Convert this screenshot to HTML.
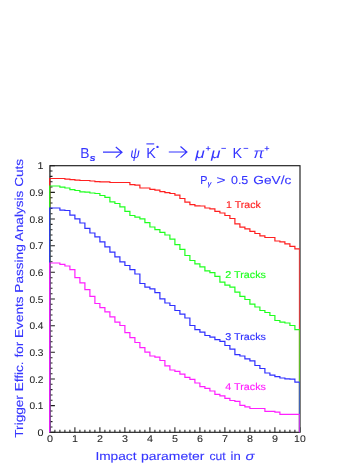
<!DOCTYPE html><html><head><meta charset="utf-8"><style>html,body{margin:0;padding:0;background:#fff}body{width:360px;height:466px;overflow:hidden;position:relative;font-family:"Liberation Sans",sans-serif}</style></head><body><svg width="360" height="466" viewBox="0 0 360 466" text-rendering="geometricPrecision" style="position:absolute;left:0;top:0;will-change:transform">
<rect width="360" height="466" fill="#fff"/>
<rect x="49.9" y="165.7" width="250.09999999999997" height="266.6" fill="none" stroke="#1c1c1c" stroke-width="1.15"/>
<path d="M49.90 432.3v-5.0M54.90 432.3v-2.6M59.90 432.3v-2.6M64.90 432.3v-2.6M69.90 432.3v-2.6M74.90 432.3v-5.0M79.90 432.3v-2.6M84.90 432.3v-2.6M89.90 432.3v-2.6M94.90 432.3v-2.6M99.90 432.3v-5.0M104.90 432.3v-2.6M109.90 432.3v-2.6M114.90 432.3v-2.6M119.90 432.3v-2.6M124.90 432.3v-5.0M129.90 432.3v-2.6M134.90 432.3v-2.6M139.90 432.3v-2.6M144.90 432.3v-2.6M149.90 432.3v-5.0M154.90 432.3v-2.6M159.90 432.3v-2.6M164.90 432.3v-2.6M169.90 432.3v-2.6M174.90 432.3v-5.0M179.90 432.3v-2.6M184.90 432.3v-2.6M189.90 432.3v-2.6M194.90 432.3v-2.6M199.90 432.3v-5.0M204.90 432.3v-2.6M209.90 432.3v-2.6M214.90 432.3v-2.6M219.90 432.3v-2.6M224.90 432.3v-5.0M229.90 432.3v-2.6M234.90 432.3v-2.6M239.90 432.3v-2.6M244.90 432.3v-2.6M249.90 432.3v-5.0M254.90 432.3v-2.6M259.90 432.3v-2.6M264.90 432.3v-2.6M269.90 432.3v-2.6M274.90 432.3v-5.0M279.90 432.3v-2.6M284.90 432.3v-2.6M289.90 432.3v-2.6M294.90 432.3v-2.6M299.90 432.3v-5.0M49.9 432.30h5.0M49.9 426.97h2.6M49.9 421.64h2.6M49.9 416.30h2.6M49.9 410.97h2.6M49.9 405.64h5.0M49.9 400.31h2.6M49.9 394.98h2.6M49.9 389.64h2.6M49.9 384.31h2.6M49.9 378.98h5.0M49.9 373.65h2.6M49.9 368.32h2.6M49.9 362.98h2.6M49.9 357.65h2.6M49.9 352.32h5.0M49.9 346.99h2.6M49.9 341.66h2.6M49.9 336.32h2.6M49.9 330.99h2.6M49.9 325.66h5.0M49.9 320.33h2.6M49.9 315.00h2.6M49.9 309.66h2.6M49.9 304.33h2.6M49.9 299.00h5.0M49.9 293.67h2.6M49.9 288.34h2.6M49.9 283.00h2.6M49.9 277.67h2.6M49.9 272.34h5.0M49.9 267.01h2.6M49.9 261.68h2.6M49.9 256.34h2.6M49.9 251.01h2.6M49.9 245.68h5.0M49.9 240.35h2.6M49.9 235.02h2.6M49.9 229.68h2.6M49.9 224.35h2.6M49.9 219.02h5.0M49.9 213.69h2.6M49.9 208.36h2.6M49.9 203.02h2.6M49.9 197.69h2.6M49.9 192.36h5.0M49.9 187.03h2.6M49.9 181.70h2.6M49.9 176.36h2.6M49.9 171.03h2.6M49.9 165.70h5.0" stroke="#1c1c1c" stroke-width="1.05" fill="none"/>
<path d="M49.70 432.30V178.50H54.90V178.50H59.90V178.50H64.90V179.20H69.90V179.70H74.90V180.20H79.90V180.50H84.90V180.50H89.90V181.00H94.90V181.70H99.90V181.80H104.90V181.80H109.90V182.50H114.90V182.50H119.90V182.50H124.90V182.50H129.90V184.70H134.90V185.20H139.90V188.00H144.90V188.00H149.90V189.30H154.90V190.20H159.90V191.70H164.90V192.70H169.90V193.50H174.90V195.20H179.90V198.50H184.90V202.20H189.90V204.70H194.90V205.80H199.90V206.00H204.90V208.00H209.90V208.80H214.90V211.30H219.90V213.00H224.90V215.50H229.90V218.50H234.90V223.80H239.90V227.20H244.90V228.80H249.90V231.30H254.90V233.50H259.90V235.80H264.90V237.50H269.90V237.50H274.90V241.00H279.90V241.80H284.90V243.80H289.90V246.30H294.90V248.80H299.50" fill="none" stroke="#ff2020" stroke-width="1.2" stroke-linejoin="miter"/>
<path d="M299.35 248.50V432.30" fill="none" stroke="#ff2020" stroke-width="0.9" opacity="0.85"/>
<path d="M49.70 432.30V186.00H54.90V186.00H59.90V187.20H64.90V188.00H69.90V189.70H74.90V190.50H79.90V191.80H84.90V192.20H89.90V193.00H94.90V193.50H99.90V195.50H104.90V197.30H109.90V201.80H114.90V203.50H119.90V206.80H124.90V211.30H129.90V215.50H134.90V217.20H139.90V218.80H144.90V222.70H149.90V227.00H154.90V229.70H159.90V232.30H164.90V235.00H169.90V239.20H174.90V244.70H179.90V249.30H184.90V255.50H189.90V260.50H194.90V263.80H199.90V266.80H204.90V270.80H209.90V272.70H214.90V276.30H219.90V282.20H224.90V285.20H229.90V287.20H234.90V292.20H239.90V296.30H244.90V299.50H249.90V304.20H254.90V307.00H259.90V310.50H264.90V312.50H269.90V315.50H274.90V320.50H279.90V322.20H284.90V323.00H289.90V325.50H294.90V329.70H299.50" fill="none" stroke="#20ff20" stroke-width="1.2" stroke-linejoin="miter"/>
<path d="M299.35 329.40V432.30" fill="none" stroke="#20ff20" stroke-width="0.9" opacity="0.85"/>
<path d="M49.70 432.30V208.00H54.90V208.00H59.90V210.20H64.90V210.50H69.90V215.20H74.90V218.80H79.90V223.00H84.90V228.30H89.90V233.00H94.90V236.80H99.90V241.80H104.90V246.80H109.90V252.20H114.90V256.80H119.90V261.80H124.90V265.50H129.90V269.70H134.90V274.00H139.90V283.50H144.90V287.20H149.90V288.80H154.90V292.70H159.90V298.80H164.90V303.00H169.90V305.50H174.90V310.50H179.90V314.20H184.90V318.00H189.90V325.50H194.90V329.70H199.90V332.20H204.90V335.50H209.90V337.20H214.90V339.70H219.90V341.30H224.90V345.50H229.90V349.20H234.90V354.70H239.90V356.00H244.90V358.80H249.90V360.80H254.90V365.50H259.90V368.50H264.90V373.00H269.90V375.20H274.90V376.70H279.90V378.00H284.90V378.80H289.90V379.20H294.90V382.20H299.50" fill="none" stroke="#3030ff" stroke-width="1.2" stroke-linejoin="miter"/>
<path d="M299.35 381.90V432.30" fill="none" stroke="#3030ff" stroke-width="0.9" opacity="0.85"/>
<path d="M49.70 432.30V263.00H54.90V263.00H59.90V264.30H64.90V266.00H69.90V269.70H74.90V277.70H79.90V282.80H84.90V289.70H89.90V296.30H94.90V303.50H99.90V307.70H104.90V311.80H109.90V316.80H114.90V322.20H119.90V325.50H124.90V332.70H129.90V337.70H134.90V342.50H139.90V347.70H144.90V352.20H149.90V356.00H154.90V357.20H159.90V360.50H164.90V365.80H169.90V370.00H174.90V371.30H179.90V374.20H184.90V377.30H189.90V379.30H194.90V383.00H199.90V386.70H204.90V388.30H209.90V391.00H214.90V394.30H219.90V395.80H224.90V398.30H229.90V400.50H234.90V401.30H239.90V405.30H244.90V406.80H249.90V408.50H254.90V408.50H259.90V408.50H264.90V411.30H269.90V411.30H274.90V412.20H279.90V414.30H284.90V414.30H289.90V414.30H294.90V414.30H299.50" fill="none" stroke="#ff20ff" stroke-width="1.2" stroke-linejoin="miter"/>
<path d="M299.35 414.00V432.30" fill="none" stroke="#ff20ff" stroke-width="0.9" opacity="0.85"/>
<path d="M50.25 165.7V432.3" stroke="#000" stroke-width="0.5" opacity="0.3" fill="none"/>
<text x="49.9" y="442.3" font-size="9.8" text-anchor="middle" textLength="6.0" lengthAdjust="spacingAndGlyphs" fill="#222" stroke="#222" stroke-width="0.05" font-family="Liberation Sans, sans-serif">0</text>
<text x="74.9" y="442.3" font-size="9.8" text-anchor="middle" textLength="6.0" lengthAdjust="spacingAndGlyphs" fill="#222" stroke="#222" stroke-width="0.05" font-family="Liberation Sans, sans-serif">1</text>
<text x="99.9" y="442.3" font-size="9.8" text-anchor="middle" textLength="6.0" lengthAdjust="spacingAndGlyphs" fill="#222" stroke="#222" stroke-width="0.05" font-family="Liberation Sans, sans-serif">2</text>
<text x="124.9" y="442.3" font-size="9.8" text-anchor="middle" textLength="6.0" lengthAdjust="spacingAndGlyphs" fill="#222" stroke="#222" stroke-width="0.05" font-family="Liberation Sans, sans-serif">3</text>
<text x="149.9" y="442.3" font-size="9.8" text-anchor="middle" textLength="6.0" lengthAdjust="spacingAndGlyphs" fill="#222" stroke="#222" stroke-width="0.05" font-family="Liberation Sans, sans-serif">4</text>
<text x="174.9" y="442.3" font-size="9.8" text-anchor="middle" textLength="6.0" lengthAdjust="spacingAndGlyphs" fill="#222" stroke="#222" stroke-width="0.05" font-family="Liberation Sans, sans-serif">5</text>
<text x="199.9" y="442.3" font-size="9.8" text-anchor="middle" textLength="6.0" lengthAdjust="spacingAndGlyphs" fill="#222" stroke="#222" stroke-width="0.05" font-family="Liberation Sans, sans-serif">6</text>
<text x="224.9" y="442.3" font-size="9.8" text-anchor="middle" textLength="6.0" lengthAdjust="spacingAndGlyphs" fill="#222" stroke="#222" stroke-width="0.05" font-family="Liberation Sans, sans-serif">7</text>
<text x="249.9" y="442.3" font-size="9.8" text-anchor="middle" textLength="6.0" lengthAdjust="spacingAndGlyphs" fill="#222" stroke="#222" stroke-width="0.05" font-family="Liberation Sans, sans-serif">8</text>
<text x="274.9" y="442.3" font-size="9.8" text-anchor="middle" textLength="6.0" lengthAdjust="spacingAndGlyphs" fill="#222" stroke="#222" stroke-width="0.05" font-family="Liberation Sans, sans-serif">9</text>
<text x="299.9" y="442.3" font-size="9.8" text-anchor="middle" textLength="11.6" lengthAdjust="spacingAndGlyphs" fill="#222" stroke="#222" stroke-width="0.05" font-family="Liberation Sans, sans-serif">10</text>
<text x="43.5" y="435.9" font-size="9.8" text-anchor="end" textLength="6.0" lengthAdjust="spacingAndGlyphs" fill="#222" stroke="#222" stroke-width="0.05" font-family="Liberation Sans, sans-serif">0</text>
<text x="43.5" y="409.2" font-size="9.8" text-anchor="end" textLength="14.1" lengthAdjust="spacingAndGlyphs" fill="#222" stroke="#222" stroke-width="0.05" font-family="Liberation Sans, sans-serif">0.1</text>
<text x="43.5" y="382.6" font-size="9.8" text-anchor="end" textLength="14.1" lengthAdjust="spacingAndGlyphs" fill="#222" stroke="#222" stroke-width="0.05" font-family="Liberation Sans, sans-serif">0.2</text>
<text x="43.5" y="355.9" font-size="9.8" text-anchor="end" textLength="14.1" lengthAdjust="spacingAndGlyphs" fill="#222" stroke="#222" stroke-width="0.05" font-family="Liberation Sans, sans-serif">0.3</text>
<text x="43.5" y="329.3" font-size="9.8" text-anchor="end" textLength="14.1" lengthAdjust="spacingAndGlyphs" fill="#222" stroke="#222" stroke-width="0.05" font-family="Liberation Sans, sans-serif">0.4</text>
<text x="43.5" y="302.6" font-size="9.8" text-anchor="end" textLength="14.1" lengthAdjust="spacingAndGlyphs" fill="#222" stroke="#222" stroke-width="0.05" font-family="Liberation Sans, sans-serif">0.5</text>
<text x="43.5" y="275.9" font-size="9.8" text-anchor="end" textLength="14.1" lengthAdjust="spacingAndGlyphs" fill="#222" stroke="#222" stroke-width="0.05" font-family="Liberation Sans, sans-serif">0.6</text>
<text x="43.5" y="249.3" font-size="9.8" text-anchor="end" textLength="14.1" lengthAdjust="spacingAndGlyphs" fill="#222" stroke="#222" stroke-width="0.05" font-family="Liberation Sans, sans-serif">0.7</text>
<text x="43.5" y="222.6" font-size="9.8" text-anchor="end" textLength="14.1" lengthAdjust="spacingAndGlyphs" fill="#222" stroke="#222" stroke-width="0.05" font-family="Liberation Sans, sans-serif">0.8</text>
<text x="43.5" y="196.0" font-size="9.8" text-anchor="end" textLength="14.1" lengthAdjust="spacingAndGlyphs" fill="#222" stroke="#222" stroke-width="0.05" font-family="Liberation Sans, sans-serif">0.9</text>
<text x="43.5" y="169.3" font-size="9.8" text-anchor="end" textLength="6.0" lengthAdjust="spacingAndGlyphs" fill="#222" stroke="#222" stroke-width="0.05" font-family="Liberation Sans, sans-serif">1</text>
<text x="226" y="208.4" font-size="9.9" fill="#ff2020" stroke="#ff2020" stroke-width="0.15" textLength="34.8" lengthAdjust="spacingAndGlyphs" font-family="Liberation Sans, sans-serif">1 Track</text>
<text x="225.3" y="277.9" font-size="9.9" fill="#20ff20" stroke="#20ff20" stroke-width="0.15" textLength="40.7" lengthAdjust="spacingAndGlyphs" font-family="Liberation Sans, sans-serif">2 Tracks</text>
<text x="225.3" y="339.6" font-size="9.9" fill="#3030ff" stroke="#3030ff" stroke-width="0.15" textLength="40.7" lengthAdjust="spacingAndGlyphs" font-family="Liberation Sans, sans-serif">3 Tracks</text>
<text x="225.3" y="390.1" font-size="9.9" fill="#ff20ff" stroke="#ff20ff" stroke-width="0.15" textLength="40.7" lengthAdjust="spacingAndGlyphs" font-family="Liberation Sans, sans-serif">4 Tracks</text>
<text x="95.4" y="459.5" font-size="11.6" textLength="41.1" lengthAdjust="spacingAndGlyphs" fill="#3535ff" stroke="#3535ff" stroke-width="0.1" font-family="Liberation Sans, sans-serif">Impact</text>
<text x="141.0" y="459.5" font-size="11.6" textLength="63.4" lengthAdjust="spacingAndGlyphs" fill="#3535ff" stroke="#3535ff" stroke-width="0.1" font-family="Liberation Sans, sans-serif">parameter</text>
<text x="209.4" y="459.5" font-size="11.6" textLength="16.2" lengthAdjust="spacingAndGlyphs" fill="#3535ff" stroke="#3535ff" stroke-width="0.1" font-family="Liberation Sans, sans-serif">cut</text>
<text x="230.6" y="459.5" font-size="11.6" textLength="10.2" lengthAdjust="spacingAndGlyphs" fill="#3535ff" stroke="#3535ff" stroke-width="0.1" font-family="Liberation Sans, sans-serif">in</text>
<text x="245.6" y="459.5" font-size="11.6" textLength="8.9" lengthAdjust="spacingAndGlyphs" fill="#3535ff" stroke="#3535ff" stroke-width="0.1" font-style="italic" font-family="Liberation Sans, sans-serif">σ</text>
<text id="yl" transform="translate(22.6 437.7) rotate(-90)" font-size="11.6" stroke="#3535ff" stroke-width="0.1" textLength="278.8" lengthAdjust="spacingAndGlyphs" fill="#3535ff" font-family="Liberation Sans, sans-serif">Trigger Effic. for Events Passing Analysis Cuts</text>
<text x="200.3" y="184" font-size="11.6" textLength="7.2" lengthAdjust="spacingAndGlyphs" fill="#3535ff" stroke="#3535ff" stroke-width="0.1" font-family="Liberation Sans, sans-serif">P</text>
<text x="207.4" y="186.2" font-size="7" textLength="4.0" lengthAdjust="spacingAndGlyphs" fill="#3535ff" font-weight="bold" font-style="italic" font-family="Liberation Sans, sans-serif">γ</text>
<text x="216.5" y="184" font-size="11.6" textLength="9" lengthAdjust="spacingAndGlyphs" fill="#3535ff" stroke="#3535ff" stroke-width="0.1" font-family="Liberation Sans, sans-serif">&gt;</text>
<text x="231" y="184" font-size="11.6" textLength="17.3" lengthAdjust="spacingAndGlyphs" fill="#3535ff" stroke="#3535ff" stroke-width="0.1" font-family="Liberation Sans, sans-serif">0.5</text>
<text x="253.3" y="184" font-size="11.6" textLength="38" lengthAdjust="spacingAndGlyphs" fill="#3535ff" stroke="#3535ff" stroke-width="0.1" font-family="Liberation Sans, sans-serif">GeV/c</text>
<text id="tB" x="80.3" y="158.2" font-size="14.4" textLength="9.2" lengthAdjust="spacingAndGlyphs" fill="#3535ff"  font-family="Liberation Sans, sans-serif">B</text>
<text x="89.4" y="160.9" font-size="9.5" textLength="6.2" lengthAdjust="spacingAndGlyphs" fill="#3535ff" font-weight="bold" font-style="italic" font-family="Liberation Sans, sans-serif">s</text>
<path d="M103 152.2H121.8M115.8 147L122 152.2L115.8 157.6" fill="none" stroke="#3535ff" stroke-width="1.2"/>
<text x="130.2" y="158.2" font-size="14.4" textLength="9.6" lengthAdjust="spacingAndGlyphs" fill="#3535ff" font-style="italic" font-family="Liberation Sans, sans-serif">ψ</text>
<text id="tK" x="146.2" y="158.2" font-size="14.4" textLength="9.6" lengthAdjust="spacingAndGlyphs" fill="#3535ff"  font-family="Liberation Sans, sans-serif">K</text>
<path d="M146.4 143.9H154.2" fill="none" stroke="#3535ff" stroke-width="1.1"/>
<circle cx="157.5" cy="146.9" r="1.2" fill="#3535ff"/>
<path d="M168.8 152H186.7M180.5 146.5L186.9 152L180.5 157.6" fill="none" stroke="#3535ff" stroke-width="1.2"/>
<text x="195.2" y="158.2" font-size="14.4" textLength="9.5" lengthAdjust="spacingAndGlyphs" fill="#3535ff" font-style="italic" font-family="Liberation Sans, sans-serif">μ</text>
<text x="205.6" y="150.6" font-size="8" textLength="5.3" lengthAdjust="spacingAndGlyphs" fill="#3535ff" font-weight="bold" font-family="Liberation Sans, sans-serif">+</text>
<text x="211" y="158.2" font-size="14.4" textLength="9.5" lengthAdjust="spacingAndGlyphs" fill="#3535ff" font-style="italic" font-family="Liberation Sans, sans-serif">μ</text>
<text x="221" y="150.6" font-size="8" textLength="5.3" lengthAdjust="spacingAndGlyphs" fill="#3535ff" font-weight="bold" font-family="Liberation Sans, sans-serif">−</text>
<text x="232.4" y="158.2" font-size="14.4" textLength="9.6" lengthAdjust="spacingAndGlyphs" fill="#3535ff"  font-family="Liberation Sans, sans-serif">K</text>
<text x="243.2" y="150.6" font-size="8" textLength="5.3" lengthAdjust="spacingAndGlyphs" fill="#3535ff" font-weight="bold" font-family="Liberation Sans, sans-serif">−</text>
<text x="253.6" y="158.2" font-size="14.4" textLength="10.5" lengthAdjust="spacingAndGlyphs" fill="#3535ff" font-style="italic" font-family="Liberation Sans, sans-serif">π</text>
<text x="264.3" y="150.6" font-size="8" textLength="5.3" lengthAdjust="spacingAndGlyphs" fill="#3535ff" font-weight="bold" font-family="Liberation Sans, sans-serif">+</text>
</svg></body></html>
